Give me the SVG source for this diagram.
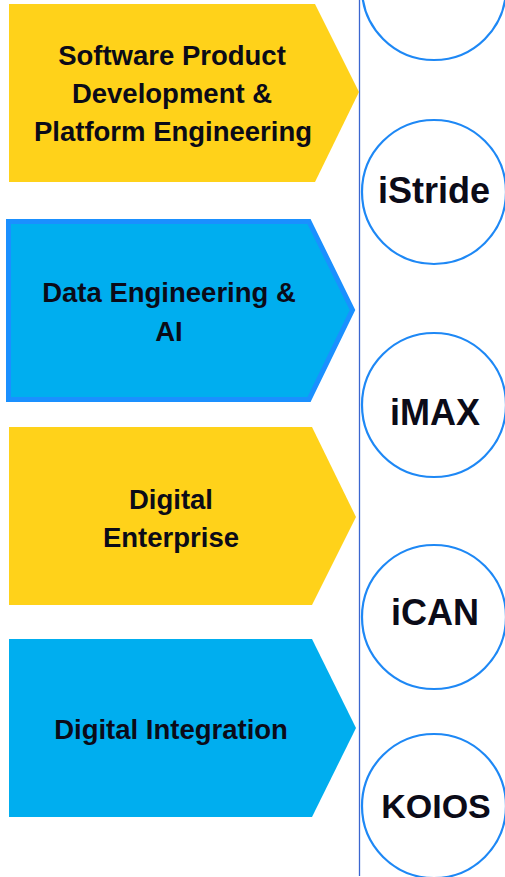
<svg xmlns="http://www.w3.org/2000/svg" width="505" height="877" viewBox="0 0 505 877">
<style>
.yel{fill:#FFD21A;}
.blu{fill:#00AEEF;}
.blb{fill:#00AEEF;stroke:#1A90FF;stroke-width:5;}
.lbl{font-family:"Liberation Sans",Arial,sans-serif;font-weight:bold;font-size:27.5px;fill:#0B0B18;text-anchor:middle;}
.circ{fill:#FFFFFF;stroke:#1E88F5;stroke-width:2.2;}
.ct{font-family:"Liberation Sans",Arial,sans-serif;font-weight:bold;font-size:36px;fill:#0B0B18;text-anchor:middle;}
</style>
<rect x="0" y="0" width="505" height="877" fill="#FFFFFF"/>
<g id="connectors">
<line x1="359.5" y1="0" x2="359.5" y2="876" stroke="#3A66D0" stroke-width="1.3"/>
</g>
<g id="box1">
<polygon class="yel" points="9,4 315,4 359,92 315,182 9,182"/>
<text class="lbl" x="172" y="65">Software Product</text>
<text class="lbl" x="172" y="103">Development &amp;</text>
<text class="lbl" x="173" y="141">Platform Engineering</text>
</g>
<g id="box2">
<polygon class="blb" points="8.5,221.5 309,221.5 352.5,310 309,399.5 8.5,399.5"/>
<text class="lbl" x="169" y="302">Data Engineering &amp;</text>
<text class="lbl" x="169" y="341">AI</text>
</g>
<g id="box3">
<polygon class="yel" points="9,427 312,427 356,517 312,605 9,605"/>
<text class="lbl" x="171" y="509">Digital</text>
<text class="lbl" x="171" y="547">Enterprise</text>
</g>
<g id="box4">
<polygon class="blu" points="9,639 312,639 356,728 312,817 9,817"/>
<text class="lbl" x="171" y="739">Digital Integration</text>
</g>
<g id="circle1">
<circle class="circ" cx="434" cy="-12" r="72"/>
</g>
<g id="circle2">
<circle class="circ" cx="434" cy="192" r="72"/>
<text class="ct" x="434" y="203">iStride</text>
</g>
<g id="circle3">
<circle class="circ" cx="434" cy="405" r="72"/>
<text class="ct" x="435" y="425">iMAX</text>
</g>
<g id="circle4">
<circle class="circ" cx="434" cy="617" r="72"/>
<text class="ct" x="435" y="625">iCAN</text>
</g>
<g id="circle5">
<circle class="circ" cx="434" cy="806" r="72"/>
<text class="ct" x="436" y="818" style="font-size:34px">KOIOS</text>
</g>
</svg>
